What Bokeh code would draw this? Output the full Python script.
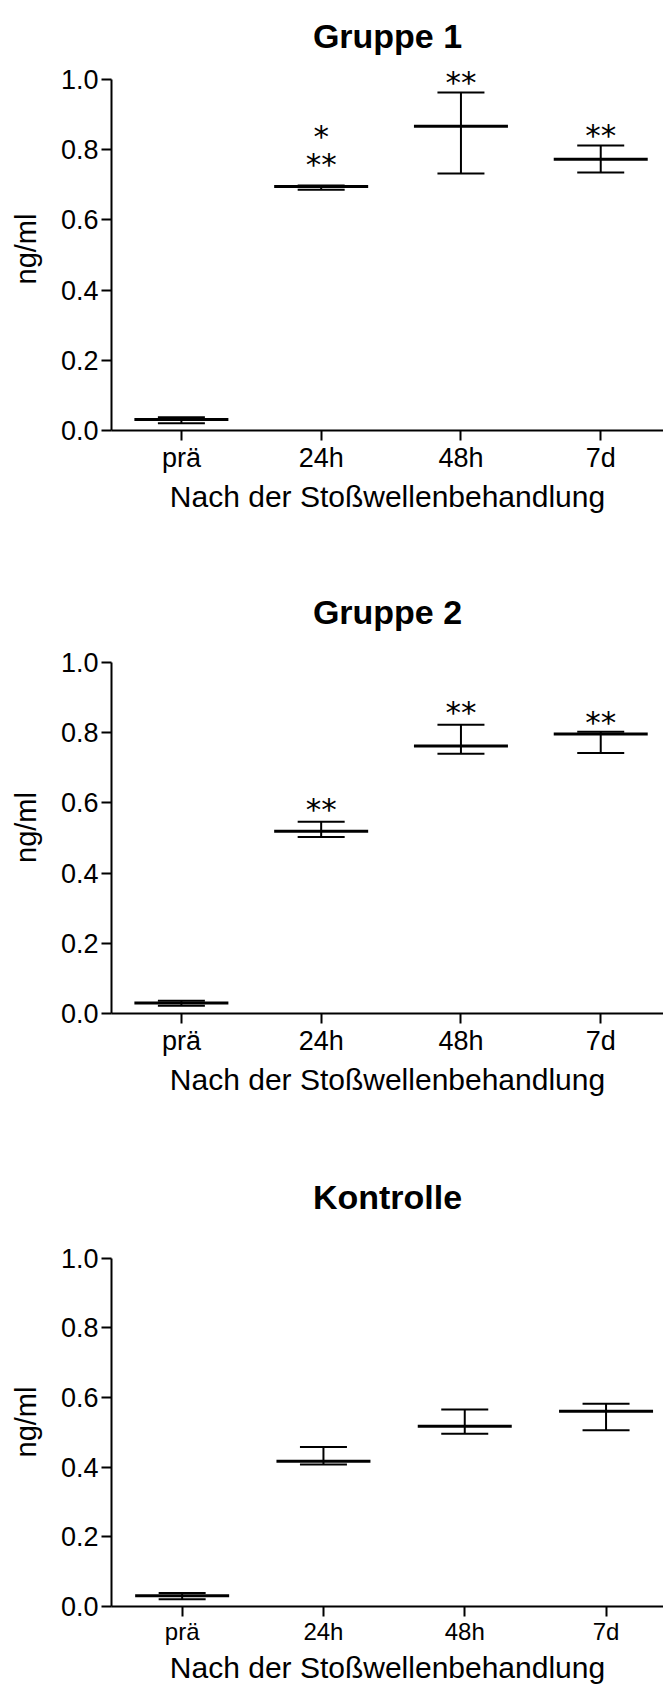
from bokeh.plotting import figure
from bokeh.models import (Range1d, FixedTicker, NumeralTickFormatter, Whisker,
                          TeeHead, ColumnDataSource)
from bokeh.layouts import column
from bokeh.embed import file_html
from bokeh.resources import INLINE
from bokeh.core.properties import value

# ---------------- data ----------------
categories = ["prä", "24h", "48h", "7d"]
titles = ["Gruppe 1", "Gruppe 2", "Kontrolle"]
x_label = "Nach der Stoßwellenbehandlung"
y_label = "ng/ml"
y_ticks = [0.0, 0.2, 0.4, 0.6, 0.8, 1.0]

g1_mean = [0.031, 0.695, 0.867, 0.773]
g1_upper = [0.038, 0.698, 0.963, 0.812]
g1_lower = [0.021, 0.686, 0.732, 0.735]
g1_sig_text = ["*", "**", "**", "**"]
g1_sig_cat = ["24h", "24h", "48h", "7d"]
g1_sig_y = [0.855, 0.776, 1.011, 0.858]

g2_mean = [0.030, 0.519, 0.762, 0.796]
g2_upper = [0.036, 0.546, 0.823, 0.803]
g2_lower = [0.022, 0.503, 0.740, 0.742]
g2_sig_text = ["**", "**", "**"]
g2_sig_cat = ["24h", "48h", "7d"]
g2_sig_y = [0.600, 0.875, 0.847]

k_mean = [0.031, 0.417, 0.518, 0.561]
k_upper = [0.039, 0.458, 0.566, 0.582]
k_lower = [0.021, 0.408, 0.496, 0.506]
k_sig_text = []
k_sig_cat = []
k_sig_y = []

# ---------------- layout constants ----------------
W = 663
SPACING = 141.3          # px between categories
PX_PER_UNIT = 351.0      # px for 1.0 on the y axis
FONT = "Liberation Sans"


def make_panel(title, mean, upper, lower, sig_text, sig_cat, sig_y,
               height, left, top, bottom, title_standoff,
               xtick_size="27px", xlabel_standoff=2, xaxis_label_standoff=4,
               ylabel_standoff=16):
    frame_w = W - left
    frame_h = height - top - bottom
    p = figure(width=W, height=height, output_backend="svg", toolbar_location=None,
               x_range=Range1d(-0.5, -0.5 + frame_w / SPACING),
               y_range=Range1d(0, frame_h / PX_PER_UNIT),
               min_border_left=left, min_border_right=0,
               min_border_top=top, min_border_bottom=bottom)
    p.outline_line_color = None
    p.xgrid.visible = False
    p.ygrid.visible = False
    p.background_fill_color = "white"
    p.border_fill_color = "white"

    p.title.text = title
    p.title.align = "center"
    p.title.text_font = FONT
    p.title.text_font_size = "34px"
    p.title.text_font_style = "bold"
    p.title.text_color = "black"
    p.title.standoff = title_standoff

    xa = p.xaxis[0]
    ya = p.yaxis[0]
    xa.ticker = FixedTicker(ticks=list(range(len(categories))))
    xa.major_label_overrides = {i: c for i, c in enumerate(categories)}
    ya.ticker = FixedTicker(ticks=y_ticks)
    ya.formatter = NumeralTickFormatter(format="0.0")
    ya.bounds = (0, 1.0)
    for ax in (xa, ya):
        ax.axis_line_width = 2
        ax.axis_line_color = "black"
        ax.major_tick_line_width = 2
        ax.major_tick_line_color = "black"
        ax.major_tick_out = 10
        ax.major_tick_in = 0
        ax.minor_tick_line_color = None
        ax.major_label_text_font = FONT
        ax.major_label_text_color = "black"
        ax.axis_label_text_font = FONT
        ax.axis_label_text_font_style = "normal"
        ax.axis_label_text_color = "black"
    xa.major_label_text_font_size = xtick_size
    ya.major_label_text_font_size = "27px"
    xa.major_label_standoff = xlabel_standoff
    ya.major_label_standoff = 3
    xa.axis_label = x_label
    ya.axis_label = y_label
    xa.axis_label_text_font_size = "30px"
    ya.axis_label_text_font_size = "29px"
    xa.axis_label_standoff = xaxis_label_standoff
    ya.axis_label_standoff = ylabel_standoff

    xs = list(range(len(categories)))
    src = ColumnDataSource(dict(x=xs, mean=mean, upper=upper, lower=lower))
    p.add_layout(Whisker(base="x", upper="upper", lower="lower", source=src,
                         line_width=2, line_color="black",
                         upper_head=TeeHead(size=47, line_width=2, line_color="black"),
                         lower_head=TeeHead(size=47, line_width=2, line_color="black")))
    p.dash(x="x", y="mean", source=src, size=94, line_width=3, color="black")

    if sig_text:
        sx = [categories.index(c) for c in sig_cat]
        p.text(x=sx, y=sig_y, text=sig_text, text_align="center",
               text_baseline="middle", text_font=value("DejaVu Sans"),
               text_font_size="31px", text_color="black", y_offset=6)
    return p


p1 = make_panel(titles[0], g1_mean, g1_upper, g1_lower, g1_sig_text, g1_sig_cat, g1_sig_y,
                height=560, left=105, top=67, bottom=130, title_standoff=26)
p2 = make_panel(titles[1], g2_mean, g2_upper, g2_lower, g2_sig_text, g2_sig_cat, g2_sig_y,
                height=580, left=105, top=81, bottom=127, title_standoff=21)
p3 = make_panel(titles[2], k_mean, k_upper, k_lower, k_sig_text, k_sig_cat, k_sig_y,
                height=546, left=111, top=97, bottom=77, title_standoff=44,
                xtick_size="24px", xlabel_standoff=1, xaxis_label_standoff=3)

layout = column(p1, p2, p3, spacing=0)
open("out.html", "w").write(file_html(layout, INLINE))
